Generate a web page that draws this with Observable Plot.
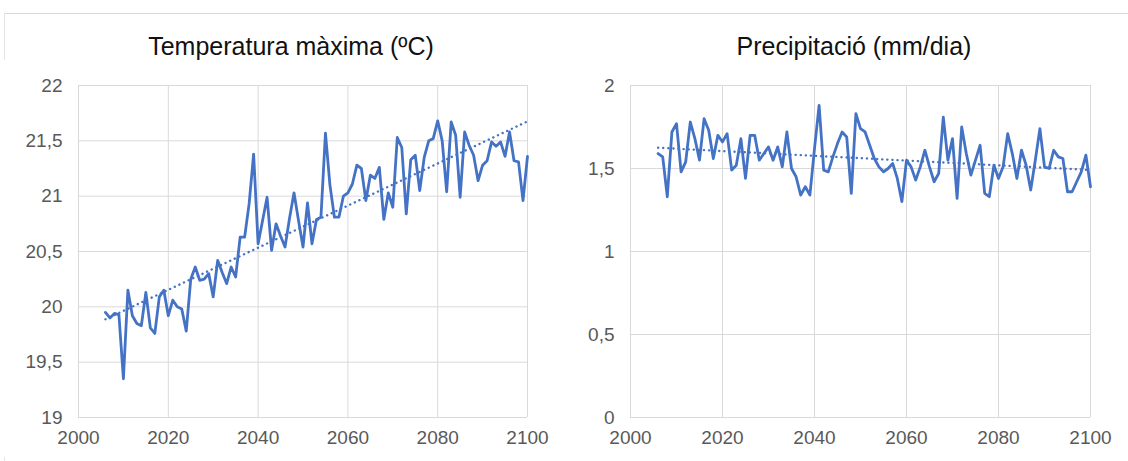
<!DOCTYPE html>
<html>
<head>
<meta charset="utf-8">
<script src="https://cdn.jsdelivr.net/npm/d3@7"></script>
<script src="https://cdn.jsdelivr.net/npm/@observablehq/plot@0.6"></script>
<style>
  html, body { margin: 0; padding: 0; background: #fff; }
  #wrap { position: relative; width: 1128px; height: 461px; overflow: hidden; font-family: "Liberation Sans", Arial, sans-serif; }
  .title { position: absolute; top: 31px; font-size: 25px; color: #111; text-align: center; width: 440px; line-height: 30px; }
  .frame-top { position: absolute; left: 4px; top: 13px; width: 1124px; height: 0; border-top: 1px solid #d9d9d9; }
  .frame-left { position: absolute; left: 4px; top: 13px; width: 0; height: 448px; border-left: 1px solid #e6e6e6; }
  .panel { position: absolute; top: 60px; }
</style>
</head>
<body>
<div id="wrap">
  <div class="frame-top"></div>
  <div class="frame-left"></div>
  <div class="title" id="t1" style="left:71px"></div>
  <div class="title" id="t2" style="left:634px"></div>
  <div class="panel" id="left" style="left:0px"></div>
  <div class="panel" id="right" style="left:560px"></div>
</div>
<script>
// Years 2006–2100
const years = d3.range(2006, 2101);

const tempTitle = "Temperatura màxima (ºC)";
const precTitle = "Precipitació (mm/dia)";

const tempMax = [
  19.95, 19.90, 19.94, 19.93, 19.35, 20.15, 19.92, 19.85, 19.83, 20.13,
  19.81, 19.76, 20.09, 20.15, 19.92, 20.06, 20.00, 19.98, 19.78, 20.25,
  20.36, 20.24, 20.25, 20.30, 20.09, 20.42, 20.31, 20.21, 20.36, 20.27,
  20.63, 20.63, 20.93, 21.38, 20.57, 20.78, 20.99, 20.51, 20.75, 20.64,
  20.54, 20.80, 21.03, 20.78, 20.54, 20.94, 20.57, 20.79, 20.81, 21.57,
  21.10, 20.81, 20.81, 21.00, 21.03, 21.11, 21.28, 21.25, 20.96, 21.19,
  21.16, 21.26, 20.79, 21.03, 20.90, 21.53, 21.44, 20.84, 21.33, 21.37,
  21.05, 21.35, 21.50, 21.52, 21.68, 21.50, 21.04, 21.67, 21.55, 20.99,
  21.58, 21.46, 21.37, 21.14, 21.28, 21.32, 21.49, 21.45, 21.49, 21.36,
  21.58, 21.32, 21.31, 20.96, 21.36
];

const precip = [
  1.59, 1.57, 1.33, 1.72, 1.77, 1.48, 1.54, 1.78, 1.68, 1.55,
  1.80, 1.73, 1.56, 1.70, 1.66, 1.71, 1.49, 1.52, 1.68, 1.44,
  1.70, 1.70, 1.55, 1.59, 1.63, 1.55, 1.63, 1.51, 1.72, 1.50,
  1.45, 1.34, 1.39, 1.34, 1.62, 1.88, 1.49, 1.48, 1.57, 1.65,
  1.72, 1.69, 1.35, 1.83, 1.74, 1.72, 1.64, 1.56, 1.51, 1.48,
  1.50, 1.53, 1.44, 1.30, 1.55, 1.51, 1.43, 1.51, 1.61, 1.51,
  1.42, 1.47, 1.81, 1.55, 1.68, 1.32, 1.75, 1.59, 1.46, 1.55,
  1.64, 1.35, 1.33, 1.52, 1.44, 1.51, 1.71, 1.59, 1.44, 1.61,
  1.52, 1.37, 1.55, 1.74, 1.51, 1.50, 1.61, 1.57, 1.56, 1.36,
  1.36, 1.42, 1.48, 1.58, 1.39
];

const xTicks = [2000, 2020, 2040, 2060, 2080, 2100];
const tempTicks = [19, 19.5, 20, 20.5, 21, 21.5, 22];
const precTicks = [0, 0.5, 1, 1.5, 2];

const blue = "#4472C4";
const grid = "#d9d9d9";
const fmt = d => String(d).replace(".", ",");

document.getElementById("t1").textContent = tempTitle;
document.getElementById("t2").textContent = precTitle;

function panel(values, yDomain, yTicks, width, marginLeft, marginRight) {
  const data = years.map((year, i) => ({year, value: values[i]}));
  return Plot.plot({
    width,
    height: 397,
    marginTop: 25,
    marginBottom: 40,
    marginLeft,
    marginRight,
    style: {fontFamily: "'Liberation Sans', Arial, sans-serif", color: "#595959", background: "#fff", overflow: "visible"},
    x: {domain: [2000, 2100], label: null},
    y: {domain: yDomain, label: null},
    marks: [
      Plot.ruleY(yTicks, {stroke: grid, strokeWidth: 1}),
      Plot.ruleX(xTicks, {stroke: grid, strokeWidth: 1}),
      Plot.axisX({ticks: xTicks, tickFormat: d => String(d), tickSize: 0, tickPadding: 13, fontSize: 19, fill: "#595959", label: null}),
      Plot.axisY({ticks: yTicks, tickFormat: fmt, tickSize: 0, tickPadding: 16, fontSize: 19, fill: "#595959", label: null}),
      Plot.linearRegressionY(data, {x: "year", y: "value", stroke: blue, strokeWidth: 2.4, strokeDasharray: "0.1,5", strokeLinecap: "round", ci: 0}),
      Plot.line(data, {x: "year", y: "value", stroke: blue, strokeWidth: 2.8, strokeLinejoin: "round"})
    ]
  });
}

document.getElementById("left").appendChild(panel(tempMax, [19, 22], tempTicks, 545, 78, 18));
document.getElementById("right").appendChild(panel(precip, [0, 2], precTicks, 550, 70, 20));
</script>
</body>
</html>
